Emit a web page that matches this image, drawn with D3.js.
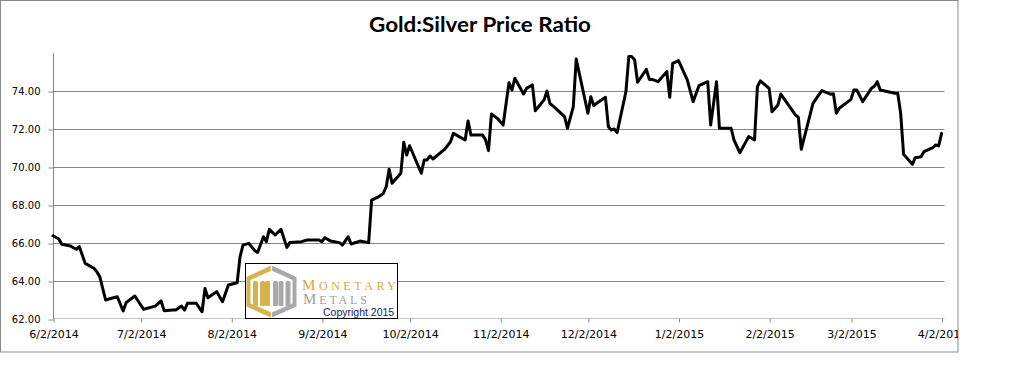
<!DOCTYPE html>
<html><head><meta charset="utf-8">
<script src="https://cdn.jsdelivr.net/npm/d3@7"></script>
<style>body{margin:0;background:#fff}svg{display:block}</style>
</head><body>
<svg id="chart" width="1009" height="372"></svg>
<script>
const titleText = "Gold:Silver Price Ratio";
const dates = [
"6/2/2014","6/4/2014","6/5/2014","6/8/2014","6/9/2014","6/10/2014","6/11/2014","6/13/2014","6/16/2014","6/17/2014",
"6/18/2014","6/20/2014","6/22/2014","6/24/2014","6/26/2014","6/27/2014","6/30/2014","7/3/2014","7/7/2014","7/9/2014",
"7/10/2014","7/13/2014","7/14/2014","7/16/2014","7/17/2014","7/18/2014","7/21/2014","7/23/2014","7/24/2014","7/25/2014",
"7/28/2014","7/30/2014","8/1/2014","8/4/2014","8/5/2014","8/6/2014","8/8/2014","8/10/2014","8/11/2014","8/13/2014",
"8/14/2014","8/15/2014","8/17/2014","8/19/2014","8/21/2014","8/22/2014","8/26/2014","8/28/2014","9/1/2014","9/2/2014",
"9/3/2014","9/5/2014","9/8/2014","9/9/2014","9/11/2014","9/12/2014","9/15/2014","9/18/2014","9/19/2014","9/21/2014",
"9/23/2014","9/24/2014","9/25/2014","9/26/2014","9/29/2014","9/30/2014","10/1/2014","10/2/2014","10/6/2014","10/7/2014",
"10/8/2014","10/9/2014","10/10/2014","10/13/2014","10/14/2014","10/16/2014","10/17/2014","10/21/2014","10/22/2014","10/23/2014",
"10/27/2014","10/28/2014","10/29/2014","10/30/2014","11/1/2014","11/3/2014","11/5/2014","11/6/2014","11/7/2014","11/10/2014",
"11/11/2014","11/13/2014","11/14/2014","11/17/2014","11/18/2014","11/19/2014","11/21/2014","11/24/2014","11/25/2014","11/27/2014",
"11/28/2014","12/2/2014","12/3/2014","12/4/2014","12/5/2014","12/8/2014","12/9/2014","12/10/2014","12/11/2014","12/12/2014",
"12/15/2014","12/16/2014","12/17/2014","12/18/2014","12/19/2014","12/22/2014","12/23/2014","12/24/2014","12/26/2014","12/29/2014",
"12/30/2014","12/31/2014","1/2/2015","1/5/2015","1/7/2015","1/9/2015","1/12/2015","1/13/2015","1/15/2015","1/16/2015",
"1/20/2015","1/21/2015","1/23/2015","1/26/2015","1/27/2015","1/28/2015","1/29/2015","1/30/2015","2/2/2015","2/3/2015",
"2/5/2015","2/6/2015","2/9/2015","2/11/2015","2/12/2015","2/13/2015","2/17/2015","2/20/2015","2/23/2015","2/24/2015",
"2/25/2015","2/26/2015","3/2/2015","3/3/2015","3/4/2015","3/6/2015","3/9/2015","3/10/2015","3/11/2015","3/12/2015",
"3/17/2015","3/18/2015","3/19/2015","3/20/2015","3/23/2015","3/24/2015","3/26/2015","3/27/2015","3/30/2015","3/31/2015",
"4/1/2015","4/2/2015"];
const ratios = [
66.38,66.21,65.93,65.84,65.75,65.67,65.81,64.93,64.67,64.49,
64.23,63.00,63.09,63.17,62.42,62.86,63.21,62.51,62.68,62.95,
62.44,62.47,62.47,62.68,62.47,62.83,62.83,62.38,63.61,63.12,
63.44,62.91,63.79,63.91,65.28,65.89,65.98,65.60,65.50,66.33,
66.07,66.72,66.42,66.72,65.77,66.02,66.07,66.16,66.16,66.07,
66.28,66.10,66.02,65.89,66.33,65.95,66.10,66.02,68.26,68.40,
68.61,68.96,69.88,69.14,69.67,71.30,70.63,71.12,69.67,70.37,
70.37,70.58,70.42,70.81,70.93,71.33,71.77,71.42,72.42,71.68,
71.68,71.42,70.86,72.79,72.56,72.21,74.44,74.05,74.67,73.84,
74.14,74.32,72.96,73.53,74.00,73.35,73.09,72.65,72.04,73.17,
75.68,72.83,73.70,73.23,73.35,73.67,72.12,71.95,72.00,71.81,
73.96,75.81,75.81,75.63,74.46,75.14,74.61,74.61,74.49,75.02,
73.67,75.46,75.60,74.58,73.44,74.28,74.49,72.21,74.49,72.04,
72.04,71.42,70.75,71.60,71.51,71.42,74.23,74.53,74.14,72.91,
73.26,73.84,73.18,72.74,72.61,70.93,73.35,74.02,73.83,73.85,
72.83,73.09,73.56,74.05,74.05,73.44,74.14,74.25,74.49,74.05,
73.88,73.88,72.83,70.67,70.14,70.49,70.54,70.81,71.02,71.16,
71.11,71.77];
const yTicks = [62,64,66,68,70,72,74];
const xTickLabels = ["6/2/2014","7/2/2014","8/2/2014","9/2/2014","10/2/2014","11/2/2014","12/2/2014","1/2/2015","2/2/2015","3/2/2015","4/2/2015"];
const logoWord1 = "MONETARY";
const logoWord2 = "METALS";
const copyrightText = "Copyright 2015";

const parse = d3.timeParse("%m/%d/%Y");
const fmt = d => `${d.getMonth()+1}/${d.getDate()}/${d.getFullYear()}`;
const data = dates.map((d,i) => ({date: parse(d), value: ratios[i]}));

const svg = d3.select("#chart");
const gridColor = "#868686";

svg.append("rect").attr("x",0.5).attr("y",0.5).attr("width",957.5).attr("height",351.5)
  .attr("fill","#fff").attr("stroke","#8a8a8a").attr("stroke-width",1);

svg.append("defs").append("clipPath").attr("id","frameClip")
  .append("rect").attr("x",0).attr("y",0).attr("width",957.5).attr("height",352);

const x = d3.scaleTime()
  .domain([parse("6/2/2014"), parse("4/3/2015")])
  .range([53, 944.5]);
const y = d3.scaleLinear().domain([62, 76]).range([319, 53]);

svg.append("text").attr("x",480).attr("y",32).attr("text-anchor","middle")
  .attr("font-family","'Liberation Sans Narrow','Lato',sans-serif").attr("font-weight","bold")
  .attr("font-size",20).attr("textLength",222).attr("lengthAdjust","spacingAndGlyphs")
  .attr("fill","#000").text(titleText);

svg.append("g").selectAll("line").data(yTicks.slice(1)).join("line")
  .attr("x1",53).attr("x2",944.5)
  .attr("y1",d=>Math.round(y(d))+0.5).attr("y2",d=>Math.round(y(d))+0.5)
  .attr("stroke",gridColor).attr("stroke-width",1);

const yAxis = d3.axisLeft(y).tickValues(yTicks).tickSize(5).tickPadding(8).tickFormat(d3.format(".2f"));
const gy = svg.append("g").attr("transform","translate(53.5,0.5)").call(yAxis);
gy.select(".domain").attr("stroke",gridColor).attr("d","M0,53V318.5");
gy.selectAll(".tick line").attr("stroke",gridColor);
gy.selectAll(".tick text").attr("font-family","'DejaVu Sans',sans-serif").attr("font-size",10).attr("fill","#000");

const xTicks = xTickLabels.map(parse);
const xAxis = d3.axisBottom(x).tickValues(xTicks).tickSize(4).tickPadding(8).tickFormat(fmt);
const gx = svg.append("g").attr("transform","translate(0.5,318.5)").attr("clip-path","url(#frameClip)").call(xAxis);
gx.select(".domain").attr("stroke",gridColor).attr("d","M52.5,0H944");
gx.selectAll(".tick line").attr("stroke",gridColor);
gx.selectAll(".tick text").attr("font-family","'DejaVu Sans',sans-serif").attr("font-size",11).attr("fill","#000");

const line = d3.line().x(d=>x(d.date)).y(d=>y(d.value));
svg.append("path").datum(data).attr("d",line).attr("fill","none")
  .attr("stroke","#000").attr("stroke-width",3).attr("stroke-linejoin","round").attr("stroke-linecap","round");

// logo box
const logo = svg.append("g");
logo.append("rect").attr("x",245.5).attr("y",263.5).attr("width",152).attr("height",55)
  .attr("fill","#fff").attr("stroke","#000").attr("stroke-width",1);
const gold = "#d6b24c", gray = "#a9a9a9";
const L=246.5, R=296.5, cx=271.5, T=265.5, B=317.5, S1=277, S2=306.5;
logo.append("polygon").attr("points",`${cx-0.6},${T} ${L},${S1} ${L},${S2} ${cx-0.6},${B}`).attr("fill",gold);
logo.append("polygon").attr("points",`${cx+0.6},${T} ${R},${S1} ${R},${S2} ${cx+0.6},${B}`).attr("fill",gray);
const inset = 4;
logo.append("polygon").attr("points",
  `${cx},${T+inset+1} ${R-inset},${S1+inset/2+1} ${R-inset},${S2-inset/2-1} ${cx},${B-inset-1} ${L+inset},${S2-inset/2-1} ${L+inset},${S1+inset/2+1}`)
  .attr("fill","#fff");
const bars = [
  {x:L+6.5, c:gold},{x:L+13.5, c:gold},{x:cx-6.5, c:gold},
  {x:cx+1.5, c:gray},{x:R-18, c:gray},{x:R-11, c:gray}
];
logo.selectAll(".bar").data(bars).join("rect").attr("class","bar")
  .attr("x",d=>d.x).attr("y",281).attr("width",5).attr("height",25).attr("rx",1.5).attr("fill",d=>d.c);

const t1 = logo.append("text").attr("x",302).attr("y",289.5)
  .attr("font-family","'Liberation Serif','DejaVu Serif',serif").attr("fill","#d2ab45")
  .attr("textLength",94).attr("lengthAdjust","spacing");
t1.append("tspan").attr("font-size",15).text(logoWord1[0]);
t1.append("tspan").attr("font-size",12).text(logoWord1.slice(1));
const t2 = logo.append("text").attr("x",303).attr("y",303.5)
  .attr("font-family","'Liberation Serif','DejaVu Serif',serif").attr("fill","#9e9e9e")
  .attr("textLength",64).attr("lengthAdjust","spacing");
t2.append("tspan").attr("font-size",15).text(logoWord2[0]);
t2.append("tspan").attr("font-size",12).text(logoWord2.slice(1));
logo.append("text").attr("x",323).attr("y",316)
  .attr("font-family","'Liberation Sans',Arial,sans-serif").attr("font-size",10.5).attr("fill","#1b1b55")
  .text(copyrightText);
</script>
</body></html>
